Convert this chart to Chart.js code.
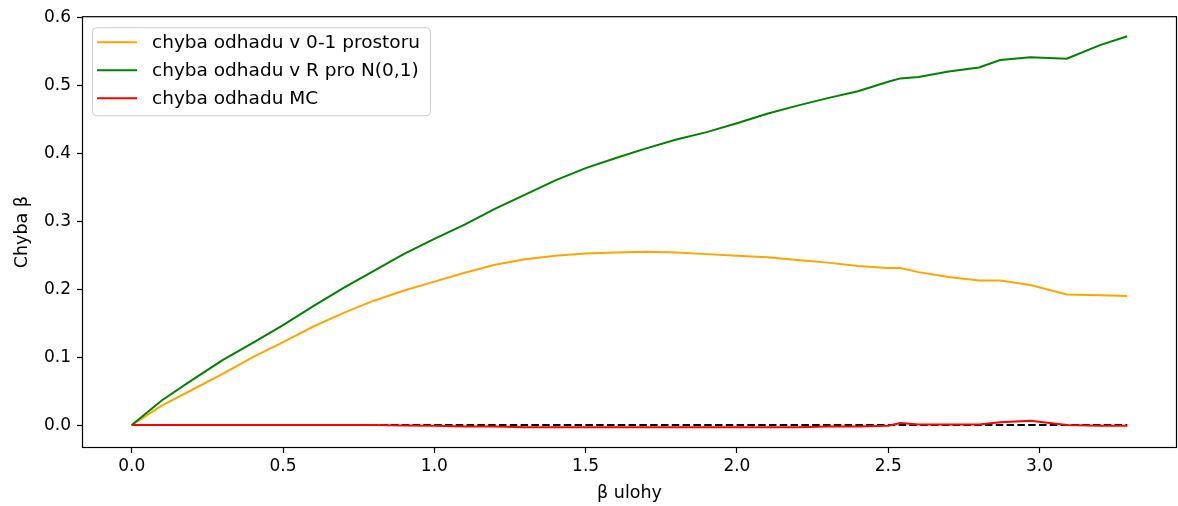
<!DOCTYPE html>
<html>
<head>
<meta charset="utf-8">
<script src="https://cdn.jsdelivr.net/npm/chart.js@4.4.1/dist/chart.umd.min.js"></script>
<style>
  html, body { margin: 0; padding: 0; background: #fff; }
  #wrap { width: 1178px; height: 506px; }
</style>
</head>
<body>
<div id="wrap"><canvas id="err-chart" width="1178" height="506"></canvas></div>
<script>
/* global Chart */
// beta ulohy (x) a odhadnute chyby
const beta = [0, 0.1, 0.2, 0.3, 0.4, 0.5, 0.6, 0.7, 0.8, 0.9, 1.0, 1.1, 1.2, 1.3, 1.4, 1.5, 1.6, 1.7, 1.8, 1.9,
    2.0, 2.1, 2.2, 2.3, 2.4, 2.5, 2.54, 2.6, 2.7, 2.8, 2.87, 2.97, 3.09, 3.2, 3.29];
const errUnit = [0, 0.029, 0.052, 0.0755, 0.100, 0.122, 0.145, 0.165, 0.183, 0.198, 0.211, 0.224, 0.236, 0.244, 0.249,
    0.2525, 0.254, 0.255, 0.254, 0.2515, 0.249, 0.247, 0.243, 0.239, 0.234, 0.231, 0.231, 0.225, 0.218, 0.2126,
    0.2126, 0.206, 0.192, 0.191, 0.190];
const errNormal = [0, 0.0365, 0.0665, 0.0955, 0.121, 0.147, 0.175, 0.202, 0.227, 0.252, 0.274, 0.295, 0.318, 0.339,
    0.360, 0.378, 0.393, 0.407, 0.420, 0.431, 0.444, 0.458, 0.470, 0.481, 0.491, 0.505, 0.510, 0.512, 0.520, 0.526,
    0.537, 0.541, 0.539, 0.559, 0.572];
const errMC = [0, 0, 0, 0, 0, 0, 0, 0, 0, -0.0005, -0.001, -0.002, -0.002, -0.003, -0.003, -0.003, -0.003, -0.003,
    -0.003, -0.003, -0.003, -0.003, -0.003, -0.002, -0.002, -0.001, 0.003, 0.001, 0.001, 0.001, 0.004, 0.0065, 0.0,
    -0.001, -0.001];
const refX = [0, 3.29];
const refY = [0, 0];

const seriesLabels = ['chyba odhadu v 0-1 prostoru', 'chyba odhadu v R pro N(0,1)', 'chyba odhadu MC'];
const seriesColors = ['#ffa500', '#008000', '#ff0000'];
const xTicks = [0, 0.5, 1.0, 1.5, 2.0, 2.5, 3.0];
const yTicks = [0, 0.1, 0.2, 0.3, 0.4, 0.5, 0.6];
const xTitle = 'β ulohy';
const yTitle = 'Chyba β';

const FONT = 'DejaVu Sans';

function toPoints(xs, ys) {
    return xs.map((x, i) => ({ x: x, y: ys[i] }));
}

// ram kolem grafu + legenda uvnitr (jako v matplotlibu)
const frameLegend = {
    id: 'frameLegend',
    afterDatasetsDraw(chart) {
        const { ctx, chartArea: a } = chart;
        ctx.save();
        ctx.strokeStyle = '#000';
        ctx.lineWidth = 1.2;
        ctx.strokeRect(a.left + 0.5, a.top + 0.5, a.right - a.left - 1, a.bottom - a.top - 1);

        const bx = a.left + 10, by = a.top + 11, bw = 338, bh = 88;
        ctx.beginPath();
        ctx.roundRect(bx + 0.5, by + 0.5, bw, bh, 4);
        ctx.fillStyle = 'rgba(255,255,255,0.8)';
        ctx.fill();
        ctx.strokeStyle = '#cccccc';
        ctx.lineWidth = 1;
        ctx.stroke();

        ctx.font = '18.5px "' + FONT + '"';
        ctx.textBaseline = 'middle';
        ctx.textAlign = 'left';
        seriesLabels.forEach((label, i) => {
            const y = by + 15 + i * 28;
            ctx.beginPath();
            ctx.moveTo(bx + 5, y);
            ctx.lineTo(bx + 45, y);
            ctx.strokeStyle = seriesColors[i];
            ctx.lineWidth = 2;
            ctx.stroke();
            ctx.fillStyle = '#000';
            ctx.fillText(label, bx + 60, y + 1);
        });
        ctx.restore();
    }
};

const ctx = document.getElementById('err-chart').getContext('2d');
new Chart(ctx, {
    type: 'line',
    data: {
        datasets: [
            { label: seriesLabels[0], data: toPoints(beta, errUnit), borderColor: seriesColors[0], order: 3 },
            { label: seriesLabels[1], data: toPoints(beta, errNormal), borderColor: seriesColors[1], order: 2 },
            { label: seriesLabels[2], data: toPoints(beta, errMC), borderColor: seriesColors[2], order: 0 },
            { label: 'nula', data: toPoints(refX, refY), borderColor: '#000', borderDash: [7.5, 3.3], order: 1 }
        ]
    },
    options: {
        responsive: false,
        animation: false,
        parsing: false,
        elements: {
            line: { borderWidth: 2, tension: 0, fill: false },
            point: { radius: 0 }
        },
        layout: { padding: { top: 15, right: 1, left: 0, bottom: 0 } },
        plugins: {
            legend: { display: false },
            tooltip: { enabled: false }
        },
        scales: {
            x: {
                type: 'linear',
                min: -0.1645,
                max: 3.4545,
                afterFit: s => { s.height = 58; },
                afterBuildTicks: s => { s.ticks = xTicks.map(v => ({ value: v })); },
                grid: { drawOnChartArea: false, tickLength: 5, tickColor: '#000', tickWidth: 1.2 },
                border: { display: false },
                ticks: {
                    color: '#000',
                    padding: 3,
                    maxRotation: 0,
                    autoSkip: false,
                    font: { family: FONT, size: 17 },
                    callback: v => v.toFixed(1)
                },
                title: {
                    display: true,
                    text: xTitle,
                    color: '#000',
                    font: { family: FONT, size: 17.5 },
                    padding: { top: 0, bottom: 2 }
                }
            },
            y: {
                type: 'linear',
                min: -0.0337,
                max: 0.6015,
                afterFit: s => { s.width = 82; },
                afterBuildTicks: s => { s.ticks = yTicks.map(v => ({ value: v })); },
                grid: { drawOnChartArea: false, tickLength: 5, tickColor: '#000', tickWidth: 1.2 },
                border: { display: false },
                ticks: {
                    color: '#000',
                    padding: 6,
                    autoSkip: false,
                    font: { family: FONT, size: 17 },
                    callback: v => v.toFixed(1)
                },
                title: {
                    display: true,
                    text: yTitle,
                    color: '#000',
                    font: { family: FONT, size: 17.5 },
                    padding: { top: 11.5, bottom: 0 }
                }
            }
        }
    },
    plugins: [frameLegend]
});
</script>
</body>
</html>
